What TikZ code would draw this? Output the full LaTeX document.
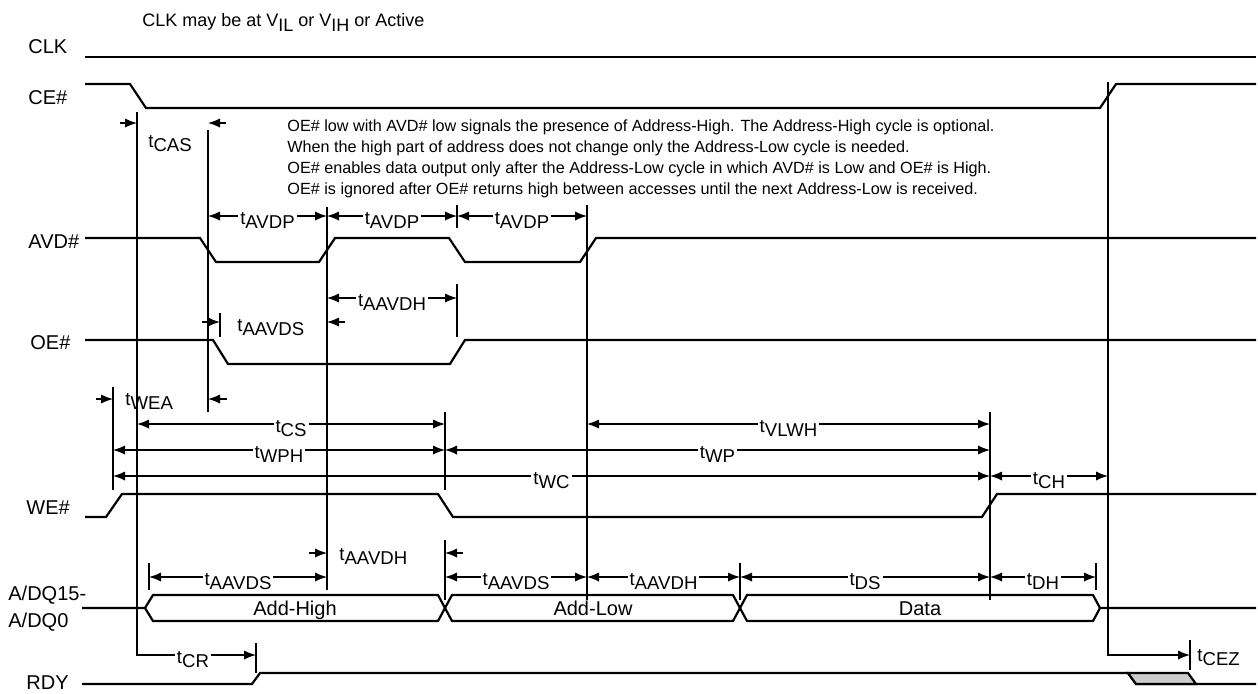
\documentclass[tikz,border=0pt]{standalone}
\usepackage{fontspec}
\setmainfont{Liberation Sans}
\usetikzlibrary{arrows.meta}
\newcommand{\tsub}[1]{t\raisebox{-2pt}{#1}}
\newcommand{\vsub}[1]{V\raisebox{-2.5pt}{#1}}

\begin{document}
\begin{tikzpicture}[x=0.5pt,y=-0.5pt,
  sig/.style={line width=1.1pt},
  vl/.style={line width=0.6pt},
  dim/.style={line width=0.6pt,{Latex[length=6pt,width=4.6pt]}-{Latex[length=6pt,width=4.6pt]}},
  arr/.style={line width=0.6pt,-{Latex[length=6pt,width=4.6pt]}},
  tl/.style={fill=white,inner sep=1pt,anchor=base,yshift=-4pt,font=\fontsize{9.3}{11}\selectfont},
  tlo/.style={inner sep=0pt,anchor=base west,font=\fontsize{9.3}{11}\selectfont},
  siglabel/.style={inner sep=0pt,anchor=base west,font=\fontsize{10}{12}\selectfont},
  buslabel/.style={inner sep=0pt,anchor=base,font=\fontsize{10}{12}\selectfont},
  notetext/.style={inner sep=0pt,anchor=base west,font=\fontsize{8.1}{9}\selectfont}]
\useasboundingbox (0,0) rectangle (1258,693);

% signal names
\node[siglabel] (lclk) at (28,53) {CLK};
\node[siglabel] (lce) at (28,104) {CE\#};
\node[siglabel] (lavd) at (28,248) {AVD\#};
\node[siglabel] (loe) at (30,349) {OE\#};
\node[siglabel] (lwe) at (26,514) {WE\#};
\node[siglabel] (ladqh) at (8,600) {A/DQ15-};
\node[siglabel] (ladql) at (8,627) {A/DQ0};
\node[siglabel] (lrdy) at (26,689) {RDY};

% notes
\node[siglabel,font=\fontsize{9}{11}\selectfont] (clknote) at (142,26) {CLK may be at \vsub{IL} or \vsub{IH} or Active};
\node[notetext] (note1) at (287,131) {OE\# low with AVD\# low signals the presence of Address-High. The Address-High cycle is optional.};
\node[notetext] (note2) at (287,152) {When the high part of address does not change only the Address-Low cycle is needed.};
\node[notetext] (note3) at (287,173) {OE\# enables data output only after the Address-Low cycle in which AVD\# is Low and OE\# is High.};
\node[notetext] (note4) at (287,194) {OE\# is ignored after OE\# returns high between accesses until the next Address-Low is received.};

% reference lines
\draw[vl] (208,130) -- (208,412);
\draw[vl] (327,207) -- (327,590);
\draw[vl] (457,205) -- (457,228);
\draw[vl] (457,284) -- (457,337);
\draw[vl] (587,205) -- (587,600);
\draw[vl] (220,313) -- (220,337);
\draw[vl] (113,387) -- (113,490);
\draw[vl] (445,412) -- (445,490);
\draw[vl] (445,540) -- (445,600);
\draw[vl] (990,412) -- (990,600);
\draw[vl] (149,563) -- (149,590);
\draw[vl] (740,563) -- (740,600);
\draw[vl] (1096,563) -- (1096,590);
\draw[vl] (256,643) -- (256,673);
\draw[vl] (1190,640) -- (1190,670);

% tCR, tCEZ
\draw[arr] (137,112) |- node[tl,pos=0.735] (tcr) {\tsub{CR}} (256,655);
\draw[arr] (1108,82) |- (1190,655);
\node[tlo] (tcez) at (1197,661) {\tsub{CEZ}};

% tCAS
\draw[arr] (120,123) -- (137,123);
\draw[arr] (226,123) -- (208,123);
\node[tlo] (tcas) at (148,147) {\tsub{CAS}};

% tAVDP, tAAVDH, tAAVDS
\draw[dim] (208,216) -- node[tl] (tavdpa) {\tsub{AVDP}} (327,216);
\draw[dim] (327,216) -- node[tl] (tavdpb) {\tsub{AVDP}} (457,216);
\draw[dim] (457,216) -- node[tl] (tavdpc) {\tsub{AVDP}} (587,216);
\draw[dim] (327,298) -- node[tl] (taavdha) {\tsub{AAVDH}} (457,298);
\draw[arr] (202,322) -- (220,322);
\draw[arr] (345,322) -- (327,322);
\node[tlo] (taavdsa) at (237,331) {\tsub{AAVDS}};

% tWEA
\draw[arr] (96,399) -- (113,399);
\draw[arr] (227,399) -- (208,399);
\node[tlo] (twea) at (125,405) {\tsub{WEA}};

% write timing
\draw[dim] (137,424) -- node[tl] (tcs) {\tsub{CS}} (445,424);
\draw[dim] (113,450) -- node[tl] (twph) {\tsub{WPH}} (445,450);
\draw[dim] (113,476) -- node[tl] (twc) {\tsub{WC}} (990,476);
\draw[dim] (587,424) -- node[tl] (tvlwh) {\tsub{VLWH}} (990,424);
\draw[dim] (445,450) -- node[tl] (twp) {\tsub{WP}} (990,450);
\draw[dim] (990,476) -- node[tl] (tch) {\tsub{CH}} (1108,476);

% address/data timing
\draw[arr] (309,553) -- (327,553);
\draw[arr] (463,553) -- (445,553);
\node[tlo] (taavdhb) at (339,560) {\tsub{AAVDH}};
\draw[dim] (149,577) -- node[tl] (taavdsb) {\tsub{AAVDS}} (327,577);
\draw[dim] (445,577) -- node[tl] (taavdsc) {\tsub{AAVDS}} (587,577);
\draw[dim] (587,577) -- node[tl] (taavdhc) {\tsub{AAVDH}} (740,577);
\draw[dim] (740,577) -- node[tl] (tds) {\tsub{DS}} (990,577);
\draw[dim] (990,577) -- node[tl] (tdh) {\tsub{DH}} (1096,577);

% waveforms
\draw[sig] (85,57) -- (1256,57);
\draw[sig] (85,84) -- (130,84) -- (146,108) -- (1100,108) -- (1116,84) -- (1256,84);
\draw[sig] (85,238) -- (200,238) -- (216,262) -- (319,262) -- (335,238) -- (449,238) -- (465,262) -- (580,262) -- (596,238) -- (1256,238);
\draw[sig] (85,340) -- (213,340) -- (228,364) -- (450,364) -- (465,340) -- (1256,340);
\draw[sig] (85,517) -- (106,517) -- (122,494) -- (438,494) -- (453,517) -- (982,517) -- (997,494) -- (1256,494);
\draw[sig] (82,608) -- (145,608) -- (153,595) -- (438,595) -- (452,621) -- (733,621) -- (747,595) -- (1093,595) -- (1100,608) -- (1256,608);
\draw[sig] (145,608) -- (153,621) -- (438,621) -- (452,595) -- (733,595) -- (747,621) -- (1093,621) -- (1100,608);
\node[buslabel] (addh) at (295,615) {Add-High};
\node[buslabel] (addl) at (593,615) {Add-Low};
\node[buslabel] (data) at (920,615) {Data};
\draw[sig] (82,684) -- (252,684) -- (260,673) -- (1128,673) -- (1136,684) -- (1256,684);
\filldraw[sig,fill=black!20] (1128,673) -- (1188,673) -- (1196,684) -- (1136,684) -- cycle;
\end{tikzpicture}
\end{document}
